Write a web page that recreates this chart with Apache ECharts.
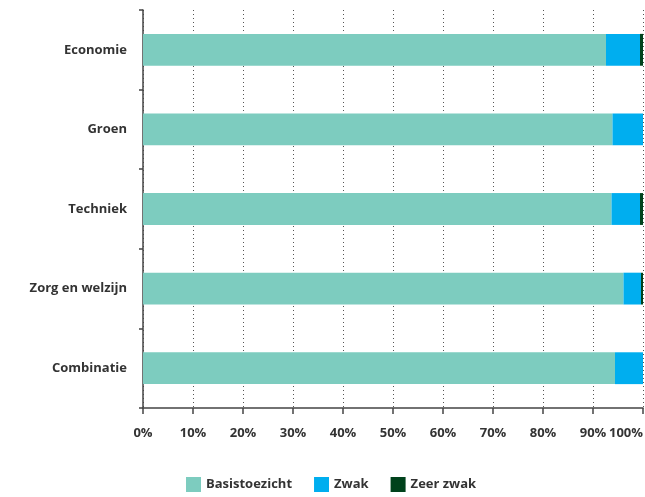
<!DOCTYPE html>
<html><head><meta charset="utf-8">
<script src="https://cdn.jsdelivr.net/npm/echarts@6/dist/echarts.min.js"></script>
<style>html,body{margin:0;padding:0;background:#fff}#c{width:645px;height:497px}</style>
</head><body><div id="c"></div>
<script>
const categories = ['Economie', 'Groen', 'Techniek', 'Zorg en welzijn', 'Combinatie'];
const basistoezicht = [92.6, 93.9, 93.7, 96.1, 94.4];
const zwak = [6.8, 6.1, 5.7, 3.5, 5.6];
const zeerZwak = [0.6, 0, 0.6, 0.4, 0];
const seriesNames = ['Basistoezicht', 'Zwak', 'Zeer zwak'];
const colors = ['#7dccbf', '#00aeef', '#00421c'];

const font = '"Open Sans", "Noto Sans", sans-serif';
const chart = echarts.init(document.getElementById('c'));
const data = [basistoezicht, zwak, zeerZwak];
chart.setOption({
  animation: false,
  textStyle: { fontFamily: font },
  grid: { left: 143, right: 2, top: 10, bottom: 89, containLabel: false, outerBoundsMode: 'none' },
  legend: {
    bottom: 0, left: 181, itemWidth: 15, itemHeight: 15, itemGap: 22,
    icon: 'rect',
    textStyle: { fontFamily: font, fontSize: 13, fontWeight: 'bold', color: '#333' },
    data: seriesNames
  },
  xAxis: {
    type: 'value', min: 0, max: 100, interval: 10,
    axisLine: { show: true, lineStyle: { color: '#444', width: 1.5 } },
    axisTick: { show: true, length: 6, lineStyle: { color: '#444', width: 1.5 } },
    axisLabel: { formatter: '{value}%', margin: 19, alignMaxLabel: 'right', fontFamily: font, fontSize: 13, fontWeight: 'bold', color: '#333' },
    splitLine: { show: true, lineStyle: { color: '#555', type: [1, 3], width: 1 } }
  },
  yAxis: {
    type: 'category', data: categories, inverse: true,
    axisLine: { show: true, lineStyle: { color: '#444', width: 1.5 } },
    axisTick: { show: true, length: 4, lineStyle: { color: '#444', width: 1.5 } },
    axisLabel: { margin: 16, fontFamily: font, fontSize: 13, fontWeight: 'bold', color: '#333' }
  },
  series: seriesNames.map((n, i) => ({
    name: n, type: 'bar', stack: 'total', barWidth: '40%',
    itemStyle: { color: colors[i] },
    data: data[i]
  }))
});
</script></body></html>
